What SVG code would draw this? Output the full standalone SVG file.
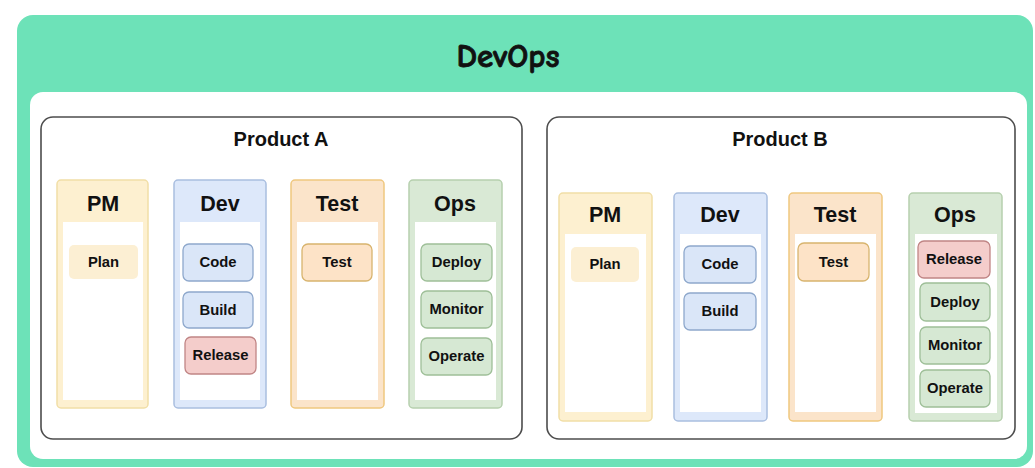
<svg xmlns="http://www.w3.org/2000/svg" width="1035" height="468" viewBox="0 0 1035 468">
<style>
.t{font-family:"Liberation Sans",Arial,sans-serif;font-weight:bold;fill:#111;text-anchor:middle}
.title{font-family:"Comic Neue","Comic Sans MS","Noto Sans","DejaVu Sans",sans-serif;font-weight:bold;font-size:33px;fill:#111;stroke:#111;stroke-width:0.8;text-anchor:middle}
.prod{fill:#fff;stroke:#4d4d4d;stroke-width:1.6}
.h{font-size:21.5px}
.p{font-size:20px}
.i{font-size:14.8px}
.inner{fill:#fff;stroke:none}
.pm{fill:#fdf0d0;stroke:#f1dea6;stroke-width:1.5}
.dev{fill:#dde8fa;stroke:#a9bee0;stroke-width:1.5}
.test{fill:#fbe4ca;stroke:#efc77f;stroke-width:1.5}
.ops{fill:#d9e9d5;stroke:#b6d0ae;stroke-width:1.5}
.iplan{fill:#fcefd3;stroke:none}
.icode{fill:#dae6f8;stroke:#8ea8cc;stroke-width:1.3}
.itest{fill:#fde3c7;stroke:#d8b46e;stroke-width:1.3}
.iops{fill:#d6e8d3;stroke:#9ebf98;stroke-width:1.3}
.irel{fill:#f4cdcb;stroke:#c08585;stroke-width:1.3}
</style>
<g id="devops">
<rect x="17" y="15" width="1016" height="452" rx="16" fill="#6de2b8"/>
<rect x="30" y="92" width="997" height="367" rx="13" fill="#fff"/>
<text class="title" x="508" y="67">DevOps</text>
</g>
<g id="productA">
<rect class="prod" x="41" y="117" width="481" height="322" rx="12"/>
<text class="t p" x="281" y="146">Product A</text>
</g>
<g id="productB">
<rect class="prod" x="547" y="117" width="468" height="322" rx="12"/>
<text class="t p" x="780" y="146">Product B</text>
</g>
<g id="A-PM">
<rect class="pm" x="57" y="180" width="91" height="228" rx="4"/>
<rect class="inner" x="63" y="222" width="80" height="178"/>
<text class="t h" x="103" y="211">PM</text>
</g>
<g id="A-Dev">
<rect class="dev" x="174" y="180" width="92" height="228" rx="4"/>
<rect class="inner" x="180" y="222" width="80" height="178"/>
<text class="t h" x="220" y="211">Dev</text>
</g>
<g id="A-Test">
<rect class="test" x="291" y="180" width="93" height="228" rx="4"/>
<rect class="inner" x="297" y="222" width="81" height="178"/>
<text class="t h" x="337" y="211">Test</text>
</g>
<g id="A-Ops">
<rect class="ops" x="409" y="180" width="93" height="228" rx="4"/>
<rect class="inner" x="415" y="222" width="81" height="178"/>
<text class="t h" x="455" y="211">Ops</text>
</g>
<g id="A-Plan"><rect class="iplan" x="69" y="245" width="69" height="34" rx="5"/><text class="t i" x="103.5" y="267">Plan</text></g>
<g id="A-Code"><rect class="icode" x="183" y="244" width="70" height="37" rx="6"/><text class="t i" x="218" y="267">Code</text></g>
<g id="A-Build"><rect class="icode" x="183" y="292" width="70" height="36" rx="6"/><text class="t i" x="218" y="315">Build</text></g>
<g id="A-Release"><rect class="irel" x="185" y="337" width="71" height="37" rx="6"/><text class="t i" x="220.5" y="360">Release</text></g>
<g id="A-TestItem"><rect class="itest" x="302" y="244" width="70" height="37" rx="6"/><text class="t i" x="337" y="267">Test</text></g>
<g id="A-Deploy"><rect class="iops" x="421" y="244" width="71" height="37" rx="6"/><text class="t i" x="456.5" y="267">Deploy</text></g>
<g id="A-Monitor"><rect class="iops" x="421" y="291" width="71" height="37" rx="6"/><text class="t i" x="456.5" y="314">Monitor</text></g>
<g id="A-Operate"><rect class="iops" x="421" y="338" width="71" height="37" rx="6"/><text class="t i" x="456.5" y="361">Operate</text></g>
<g id="B-PM">
<rect class="pm" x="559" y="193" width="93" height="228" rx="4"/>
<rect class="inner" x="565" y="234" width="81" height="178"/>
<text class="t h" x="605" y="222">PM</text>
</g>
<g id="B-Dev">
<rect class="dev" x="674" y="193" width="93" height="228" rx="4"/>
<rect class="inner" x="680" y="234" width="81" height="178"/>
<text class="t h" x="720" y="222">Dev</text>
</g>
<g id="B-Test">
<rect class="test" x="789" y="193" width="93" height="228" rx="4"/>
<rect class="inner" x="795" y="234" width="81" height="178"/>
<text class="t h" x="835" y="222">Test</text>
</g>
<g id="B-Ops">
<rect class="ops" x="909" y="193" width="93" height="228" rx="4"/>
<rect class="inner" x="915" y="234" width="82" height="179"/>
<text class="t h" x="955" y="222">Ops</text>
</g>
<g id="B-Plan"><rect class="iplan" x="571" y="247" width="68" height="35" rx="5"/><text class="t i" x="605" y="269">Plan</text></g>
<g id="B-Code"><rect class="icode" x="684" y="246" width="72" height="37" rx="6"/><text class="t i" x="720" y="269">Code</text></g>
<g id="B-Build"><rect class="icode" x="684" y="293" width="72" height="37" rx="6"/><text class="t i" x="720" y="316">Build</text></g>
<g id="B-TestItem"><rect class="itest" x="798" y="243" width="71" height="38" rx="6"/><text class="t i" x="833.5" y="267">Test</text></g>
<g id="B-Release"><rect class="irel" x="918" y="241" width="72" height="37" rx="6"/><text class="t i" x="954" y="264">Release</text></g>
<g id="B-Deploy"><rect class="iops" x="920" y="283" width="70" height="38" rx="6"/><text class="t i" x="955" y="307">Deploy</text></g>
<g id="B-Monitor"><rect class="iops" x="920" y="327" width="70" height="37" rx="6"/><text class="t i" x="955" y="350">Monitor</text></g>
<g id="B-Operate"><rect class="iops" x="920" y="370" width="70" height="37" rx="6"/><text class="t i" x="955" y="393">Operate</text></g>
<g id="connectors"></g>
</svg>
